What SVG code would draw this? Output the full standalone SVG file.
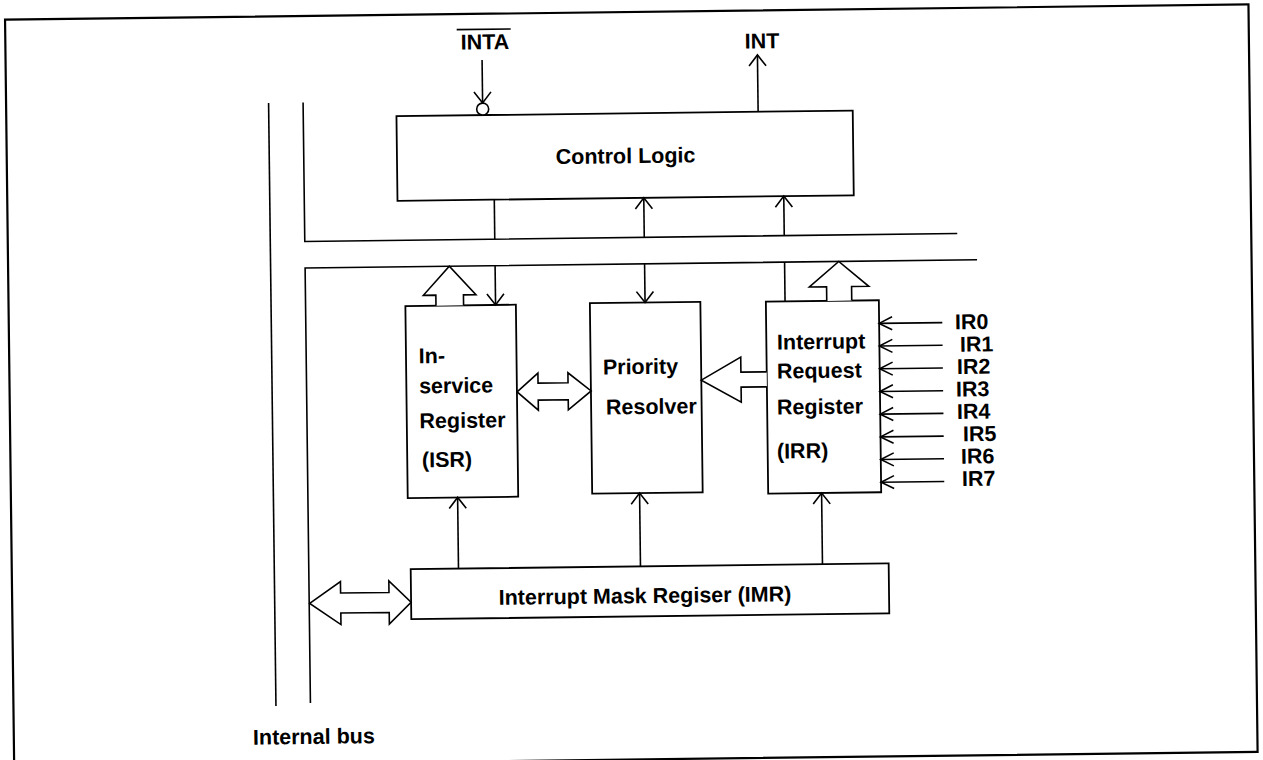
<svg xmlns="http://www.w3.org/2000/svg" width="1263" height="760" viewBox="0 0 1263 760">
<style>
.box{fill:#fff;stroke:#000;stroke-width:1.8}
.ln{fill:none;stroke:#000;stroke-width:1.6}
.hol{fill:#fff;stroke:#000;stroke-width:1.6;stroke-linejoin:miter}
.t{font-family:"Liberation Sans",Arial,sans-serif;font-weight:bold;font-size:21.5px;fill:#000}
.m{text-anchor:middle}
</style>
<defs>
<marker id="ah" markerUnits="userSpaceOnUse" markerWidth="30" markerHeight="30" refX="0" refY="0" viewBox="-15 -15 30 30" orient="auto" overflow="visible">
<path d="M-11,-8.5 L0,0 L-11,8.5" fill="none" stroke="#000" stroke-width="1.6"/>
</marker>
<marker id="ahs" markerUnits="userSpaceOnUse" markerWidth="30" markerHeight="30" refX="0" refY="0" viewBox="-15 -15 30 30" orient="auto" overflow="visible">
<path d="M-13,-6.5 L0,0 L-13,6.5" fill="none" stroke="#000" stroke-width="1.6"/>
</marker>
</defs>
<rect width="1263" height="760" fill="#fff"/>
<g transform="rotate(-0.7 631 380)">
<rect id="frame" x="9.5" y="12" width="1243.5" height="747.5" fill="none" stroke="#000" stroke-width="2.2"/>

<g id="internal-bus">
<path class="ln" d="M272,98.5 V701.7"/>
<path class="ln" d="M306.5,98.5 V237.5 H959"/>
<path class="ln" d="M978.5,264 H306.5 V699"/>
<text class="t" x="248.6" y="740">Internal bus</text>
</g>

<g id="control-logic">
<rect class="box" x="399.7" y="113.3" width="456.3" height="84.7"/>
<text class="t m" x="628.3" y="163.2">Control Logic</text>
</g>

<g id="isr">
<rect class="box" x="406.3" y="303.3" width="110.5" height="192"/>
<text class="t" x="419" y="360.7">In-</text>
<text class="t" x="419" y="390.7">service</text>
<text class="t" x="419" y="425.7">Register</text>
<text class="t" x="421" y="464.7">(ISR)</text>
</g>

<g id="priority-resolver">
<rect class="box" x="590.8" y="302.7" width="110.5" height="190.5"/>
<text class="t" x="603" y="374.1">Priority</text>
<text class="t" x="605.6" y="414.1">Resolver</text>
</g>

<g id="irr">
<rect class="box" x="766.8" y="303.3" width="113" height="192"/>
<text class="t" x="777.4" y="351.3">Interrupt</text>
<text class="t" x="777" y="380.3">Request</text>
<text class="t" x="776.6" y="416.3">Register</text>
<text class="t" x="776" y="460.3">(IRR)</text>
</g>

<g id="imr">
<rect class="box" x="408.4" y="566.5" width="478" height="50"/>
<text class="t m" x="642.3" y="603.2">Interrupt Mask Regiser (IMR)</text>
</g>

<g id="signals">
<text class="t m" x="489" y="47.5">INTA</text>
<path class="ln" d="M461,27.5 H515" stroke-width="1.8"/>
<text class="t m" x="766.2" y="49.9">INT</text>
<text class="t" x="955.6" y="333.3">IR0</text>
<text class="t" x="960.3" y="355.7">IR1</text>
<text class="t" x="957" y="378.1">IR2</text>
<text class="t" x="955.8" y="400.5">IR3</text>
<text class="t" x="956.5" y="422.9">IR4</text>
<text class="t" x="962.3" y="445.3">IR5</text>
<text class="t" x="960" y="467.7">IR6</text>
<text class="t" x="960.7" y="490.1">IR7</text>
</g>

<g id="connectors">
<!-- INTA with bubble -->
<path class="ln" d="M486,58.2 V101.2" marker-end="url(#ah)"/>
<circle cx="486" cy="107.3" r="6" fill="#fff" stroke="#000" stroke-width="1.6"/>
<!-- INT -->
<path class="ln" d="M761.4,113.3 V56.5" marker-end="url(#ah)"/>
<!-- control logic to upper bus -->
<path class="ln" d="M496.5,237.5 V198"/>
<path class="ln" d="M646,237.5 V198" marker-end="url(#ah)"/>
<path class="ln" d="M786,237.5 V198" marker-end="url(#ah)"/>
<!-- lower bus to registers -->
<path class="ln" d="M496.5,264 V303.3" marker-end="url(#ah)"/>
<path class="ln" d="M646,264 V302.7" marker-end="url(#ah)"/>
<path class="ln" d="M786,264 V303.3"/>
<!-- hollow bus arrows -->
<path class="hol" d="M436.9,303.3 V292.8 H424.4 L450.7,264 L477,292.8 H464.5 V303.3"/>
<path class="hol" d="M827.7,303.3 V289.2 H810.5 L840.2,264 L869.9,289.2 H852.7 V303.3"/>
<!-- ISR <-> PR -->
<path class="hol" d="M517,390.5 L538,372 V382 H568 V372 L591,390.5 L568,409 V399 H538 V409 Z"/>
<!-- IRR -> PR -->
<path class="hol" d="M766.8,373.5 H741 V358.5 L701.3,381 L741,403.5 V388.5 H766.8"/>
<!-- bus <-> IMR -->
<path class="hol" d="M307,599.5 L338,578 V589.5 H386.4 V578 L408.4,599.5 L386.4,621 V609.5 H338 V621 Z"/>
<!-- IMR to registers -->
<path class="ln" d="M456.2,566.5 V495.3" marker-end="url(#ah)"/>
<path class="ln" d="M638.2,566.5 V493.2" marker-end="url(#ah)"/>
<path class="ln" d="M820.2,566.5 V495.3" marker-end="url(#ah)"/>
<!-- IR inputs -->
<path class="ln" d="M943,326.4 H879.8" marker-end="url(#ahs)"/>
<path class="ln" d="M943,349.1 H879.8" marker-end="url(#ahs)"/>
<path class="ln" d="M943,371.8 H879.8" marker-end="url(#ahs)"/>
<path class="ln" d="M943,394.5 H879.8" marker-end="url(#ahs)"/>
<path class="ln" d="M943,417.2 H879.8" marker-end="url(#ahs)"/>
<path class="ln" d="M943,439.9 H879.8" marker-end="url(#ahs)"/>
<path class="ln" d="M943,462.6 H879.8" marker-end="url(#ahs)"/>
<path class="ln" d="M943,485.3 H879.8" marker-end="url(#ahs)"/>
</g>
</g>
</svg>
